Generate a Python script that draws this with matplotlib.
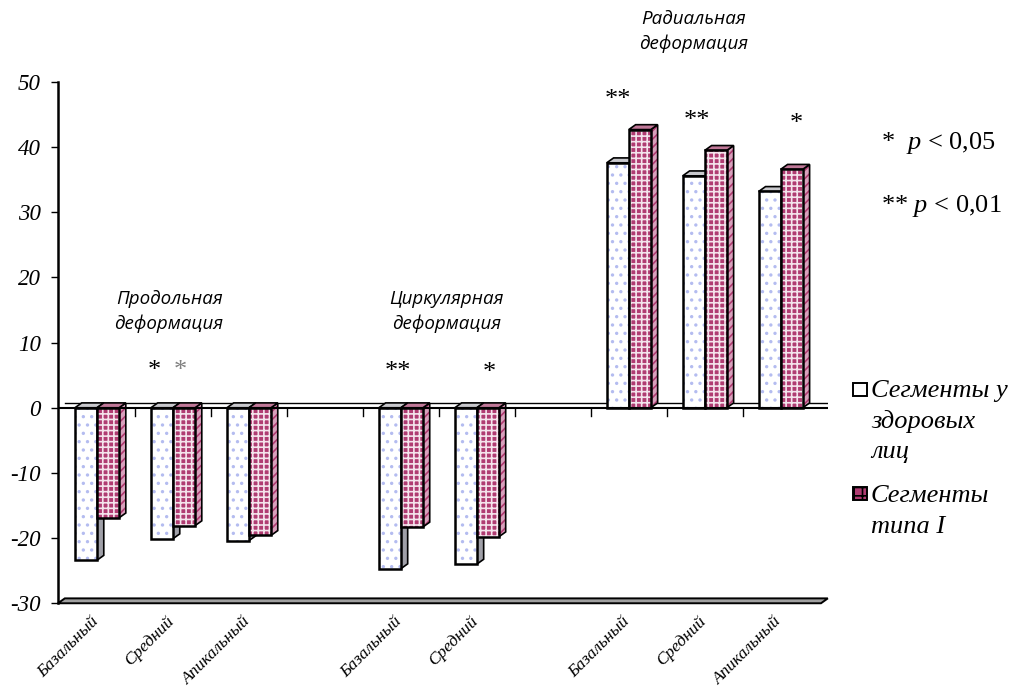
import numpy as np
import matplotlib.pyplot as plt
import matplotlib.transforms as mtransforms
from matplotlib.patches import Polygon, Rectangle

plt.rcParams['hatch.linewidth'] = 1.2
plt.rcParams['mathtext.fontset'] = 'custom'
plt.rcParams['mathtext.it'] = 'Liberation Serif:italic'
plt.rcParams['mathtext.rm'] = 'Liberation Serif'

# slot positions (3 and 6 are gaps between groups)
slots = [0, 1, 2, 4, 5, 7, 8, 9]
cats = ['Базальный', 'Средний', 'Апикальный',
        'Базальный', 'Средний',
        'Базальный', 'Средний', 'Апикальный']
healthy = [-23.4, -20.1, -20.4, -24.7, -24.0, 37.6, 35.6, 33.2]
type1 = [-16.9, -18.1, -19.6, -18.3, -19.8, 42.7, 39.5, 36.6]
yticks = list(range(-30, 51, 10))

groups = ['Продольная\nдеформация', 'Циркулярная\nдеформация', 'Радиальная\nдеформация']
group_pos = [(0.95, 14.8), (4.6, 14.8), (7.85, 57.7)]
stars = [(0.75, 5.7, '*', 'black'), (1.1, 5.7, '*', 'gray'),
         (3.96, 5.5, '**', 'black'), (5.16, 5.3, '*', 'black'),
         (6.86, 47.3, '**', 'black'), (7.9, 44.0, '**', 'black'), (9.2, 43.6, '*', 'black')]

fig = plt.figure(figsize=(10.17, 6.95), dpi=100)
ax = fig.add_axes([0.057, 0.132, 0.757, 0.75])
x0, x1 = -0.513, 9.62
ax.set_xlim(x0, x1)
ax.set_ylim(-30, 50)

w = 0.29
dx, dy = 0.09, 0.75
pink = '#b03c72'

def side(xr, v, **kw):
    ax.add_patch(Polygon([(xr, 0), (xr + dx, dy), (xr + dx, v + dy), (xr, v)], closed=True, **kw))

def top(xl, xr, v, **kw):
    ax.add_patch(Polygon([(xl, v), (xl + dx, v + dy), (xr + dx, v + dy), (xr, v)], closed=True, **kw))

# back zero line and floor
ax.plot([x0 + dx, x1], [dy, dy], color='black', lw=1, zorder=1)
ax.add_patch(Polygon([(x0, -30), (x0 + dx, -30 + dy), (x1, -30 + dy), (x1 - dx, -30)],
                     closed=True, facecolor='#a0a0a0', edgecolor='black', lw=1.4, zorder=1, clip_on=False))

for i, s in enumerate(slots):
    h, p = healthy[i], type1[i]
    # healthy bar
    side(s, h, facecolor='#a0a0a8', edgecolor='black', lw=1.2, zorder=2)
    top(s - w, s, max(h, 0), facecolor='#c8c8cc', edgecolor='black', lw=1.2, zorder=2)
    ax.bar(s - w / 2, h, w, color='white', hatch='..', edgecolor='#b4bcf0', lw=0, zorder=3)
    ax.bar(s - w / 2, h, w, fill=False, edgecolor='black', lw=1.8, zorder=3)
    # type I bar
    side(s + w, p, facecolor='#d8a0bc', hatch='////', edgecolor=pink, lw=0, zorder=4)
    side(s + w, p, fill=False, edgecolor='black', lw=1.2, zorder=4)
    top(s, s + w, max(p, 0), facecolor='#c07898', edgecolor='black', lw=1.2, zorder=4)
    ax.bar(s + w / 2, p, w, color=pink, hatch='+++', edgecolor='#f4e4ec', lw=0, zorder=5)
    ax.bar(s + w / 2, p, w, fill=False, edgecolor='black', lw=1.8, zorder=5)

ax.axhline(0, color='black', lw=1.5, zorder=6)
for b in [0.5, 1.5, 2.5, 3.5, 4.5, 5.5, 6.5, 7.5, 8.5]:
    ax.plot([b, b], [0, -1.2], color='black', lw=1, zorder=6)

for sp in ['top', 'right', 'bottom']:
    ax.spines[sp].set_visible(False)
ax.spines['left'].set_linewidth(1.8)
ax.tick_params(axis='y', length=5, width=1.0, labelleft=False)
ax.set_xticks([])
ax.set_yticks(yticks)
# tick labels as italic serif text
ytrans = mtransforms.blended_transform_factory(ax.transAxes, ax.transData)
for v in yticks:
    ax.text(-0.022, v, str(v), transform=ytrans, ha='right', va='center_baseline',
            family='Liberation Serif', style='italic', fontsize=16.5, clip_on=False)

for s, c in zip(slots, cats):
    ax.text(s + 0.06, -31.6, c, rotation=45, ha='right', va='top', family='Liberation Serif',
            style='italic', fontsize=12.5, clip_on=False)

for (gx, gy), g in zip(group_pos, groups):
    ax.text(gx, gy, g, ha='center', va='center', family='Open Sans', style='italic',
            fontsize=13.5, linespacing=1.45, clip_on=False)
for sx, sy, t, col in stars:
    ax.text(sx, sy, t, ha='center', va='center', family='Liberation Serif', fontsize=19,
            color=col, clip_on=False)

fig.text(0.866, 1 - 149 / 695, '*  $p$ < 0,05', family='Liberation Serif', fontsize=19, va='baseline')
fig.text(0.866, 1 - 212 / 695, '** $p$ < 0,01', family='Liberation Serif', fontsize=19, va='baseline')

# legend drawn by hand to keep the marker on the first text line
leg_font = {'family': 'Liberation Serif', 'style': 'italic', 'size': 19}
fig.patches.append(Rectangle((853 / 1017, 1 - 396 / 695), 14 / 1017, 13 / 695, transform=fig.transFigure,
                             facecolor='white', edgecolor='black', lw=1.4))
fig.patches.append(Rectangle((853 / 1017, 1 - 500 / 695), 14 / 1017, 13 / 695, transform=fig.transFigure,
                             facecolor=pink, hatch='++', edgecolor='black', lw=1.4))
legend_lines = [('Сегменты у', 397), ('здоровых', 428), ('лиц', 458),
                ('Сегменты', 502), ('типа I', 533)]
for txt, yb in legend_lines:
    fig.text(871 / 1017, 1 - yb / 695, txt, va='baseline', **leg_font)

fig.savefig('out.png', dpi=100)
